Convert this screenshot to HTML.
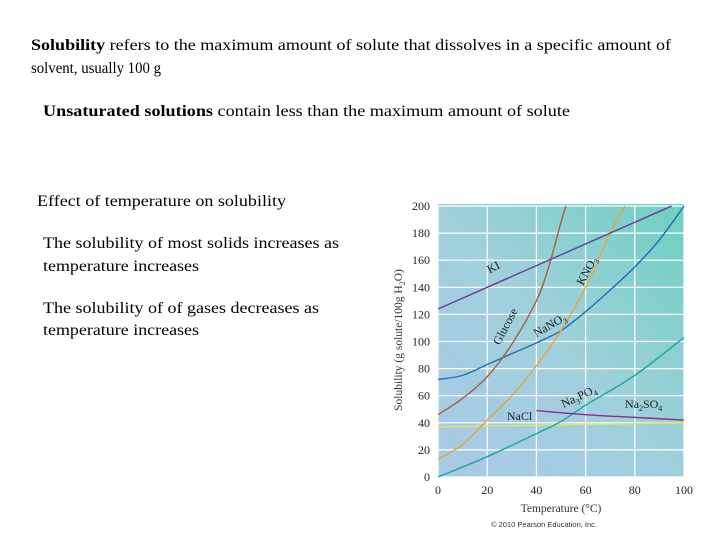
<!DOCTYPE html>
<html><head><meta charset="utf-8"><style>
body{margin:0;background:#fff;}
svg{display:block;font-family:"Liberation Serif",serif;}
</style></head><body>
<svg id="s" width="720" height="540" viewBox="0 0 720 540">
<defs>
<linearGradient id="bg" x1="0" y1="1" x2="1" y2="0">
<stop offset="0" stop-color="#a9c9e6"/><stop offset="0.5" stop-color="#9fd0dc"/><stop offset="1" stop-color="#6fcfc0"/>
</linearGradient>
</defs>
<g font-size="16" fill="#000">
<text x="31" y="50" textLength="640" lengthAdjust="spacingAndGlyphs"><tspan font-weight="bold">Solubility</tspan> refers to the maximum amount of solute that dissolves in a specific amount of</text>
<text x="31" y="73" textLength="130" lengthAdjust="spacingAndGlyphs">solvent, usually 100 g</text>
<text x="43" y="116" textLength="527" lengthAdjust="spacingAndGlyphs"><tspan font-weight="bold">Unsaturated solutions</tspan>  contain less than the maximum amount of solute</text>
<text x="37" y="206" textLength="249" lengthAdjust="spacingAndGlyphs">Effect of temperature on solubility</text>
<text x="43" y="248" textLength="296" lengthAdjust="spacingAndGlyphs">The solubility of most solids increases as</text>
<text x="43" y="271" textLength="156" lengthAdjust="spacingAndGlyphs">temperature increases</text>
<text x="43" y="313" textLength="276" lengthAdjust="spacingAndGlyphs">The solubility of of gases decreases as</text>
<text x="43" y="335" textLength="156" lengthAdjust="spacingAndGlyphs">temperature increases</text>
</g>
<rect x="438" y="204" width="246" height="273" fill="url(#bg)"/>
<g id="grid"></g>
<g id="series"></g>
<g id="labels" font-size="12" fill="#222"></g>
<text x="561" y="512" font-size="11.5" text-anchor="middle" fill="#333">Temperature (°C)</text>
<text transform="translate(402,340) rotate(-90)" font-size="11.5" text-anchor="middle" fill="#333">Solubility (g solute/100g H<tspan font-size="8" dy="3">2</tspan><tspan dy="-3">O)</tspan></text>
<text x="544" y="527" font-size="7.5" text-anchor="middle" font-family="Liberation Sans,sans-serif" fill="#333">© 2010 Pearson Education, Inc.</text>
</svg>
<script>
const xTicks=[0,20,40,60,80,100];
const yTicks=[0,20,40,60,80,100,120,140,160,180,200];
const kiT=[0,20,40,60,80,95];const kiV=[124,140,156,172,188,200];
const glucoseT=[0,10,20,30,40,45,50,52];const glucoseV=[46,58,74,98,130,155,188,200];
const kno3T=[0,10,20,30,40,50,60,70,76];const kno3V=[13,24,42,60,82,108,140,180,200];
const nano3T=[0,10,20,30,40,50,60,70,80,90,100];const nano3V=[72,75,83,91,99,108,122,138,155,175,200];
const naclT=[0,100];const naclV=[37,40];
const na2so4T=[40,60,80,100];const na2so4V=[49,46,44,42];
const na3po4T=[0,20,40,50,60,80,100];const na3po4V=[0,15,32,41,53,75,103];
const X=t=>438+t*2.46, Y=v=>477-v*1.355;
const NS="http://www.w3.org/2000/svg";
const grid=document.getElementById('grid'),ser=document.getElementById('series'),lab=document.getElementById('labels');
function mk(tag,p,attrs){const e=document.createElementNS(NS,tag);for(const k in attrs)e.setAttribute(k,attrs[k]);p.appendChild(e);return e;}
xTicks.forEach(t=>{
 const l=mk('line',grid,{x1:X(t),x2:X(t),y1:Y(0),y2:Y(200),stroke:'#fff','stroke-width':1.2});
 
 
 const tx=mk('text',lab,{x:X(t),y:494,'text-anchor':'middle'});tx.textContent=t;
 
 
});
yTicks.forEach(v=>{
 const l=mk('line',grid,{x1:X(0),x2:X(100),y1:Y(v),y2:Y(v),stroke:'#fff','stroke-width':1.2});
 
 
 const tx=mk('text',lab,{x:430,y:Y(v)+4,'text-anchor':'end'});tx.textContent=v;
 
 
});
function path(T,V){let d='';const p=T.map((t,i)=>[X(t),Y(V[i])]);
 d='M'+p[0][0]+','+p[0][1];
 for(let i=0;i<p.length-1;i++){const p0=p[i-1]||p[i],p1=p[i],p2=p[i+1],p3=p[i+2]||p2;
  d+=' C'+(p1[0]+(p2[0]-p0[0])/6)+','+(p1[1]+(p2[1]-p0[1])/6)+' '+(p2[0]-(p3[0]-p1[0])/6)+','+(p2[1]-(p3[1]-p1[1])/6)+' '+p2[0]+','+p2[1];}
 return d;}
function line(T,V,c,name){const e=mk('path',ser,{d:path(T,V),fill:'none',stroke:c,'stroke-width':1.4});
 
 }
line(naclT,naclV,'#e8e45a','nacl-line');
line(na3po4T,na3po4V,'#1aa79a','na3po4-line');
line(na2so4T,na2so4V,'#8e2a8e','na2so4-line');
line(nano3T,nano3V,'#1f6fb0','nano3-line');
line(kno3T,kno3V,'#e8a53a','kno3-line');
line(glucoseT,glucoseV,'#a4603e','glucose-line');
line(kiT,kiV,'#6a3a9a','ki-line');
function lbl(txt,x,y,rot,name){const e=mk('text',lab,{x:x,y:y,transform:'rotate('+rot+' '+x+' '+y+')','font-size':12});e.innerHTML=txt;
 
 }
lbl('KI',X(21),Y(150),-28,'ki-label');
lbl('KNO<tspan font-size="8" dy="3">3</tspan>',X(59),Y(141),-62,'kno3-label');
lbl('Glucose',X(25),Y(97),-62,'glucose-label');
lbl('NaNO<tspan font-size="8" dy="3">3</tspan>',X(40),Y(103),-30,'nano3-label');
lbl('Na<tspan font-size="8" dy="3">3</tspan><tspan dy="-3">PO</tspan><tspan font-size="8" dy="3">4</tspan>',X(51),Y(51),-25,'na3po4-label');
lbl('Na<tspan font-size="8" dy="3">2</tspan><tspan dy="-3">SO</tspan><tspan font-size="8" dy="3">4</tspan>',X(76),Y(51),0,'na2so4-label');
lbl('NaCl',X(28),Y(42),0,'nacl-label');
</script>
</body></html>
